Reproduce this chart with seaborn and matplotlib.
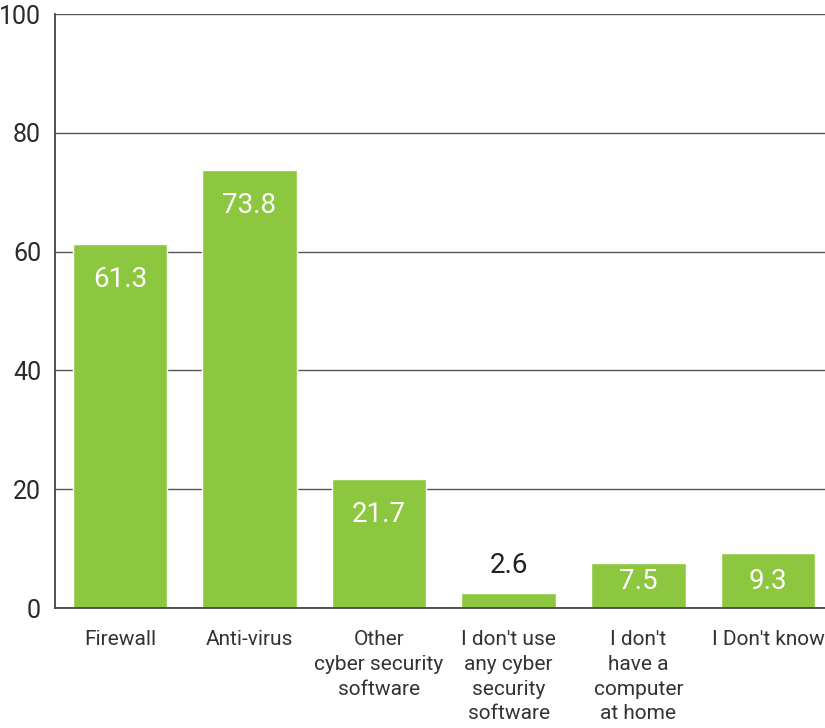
import matplotlib
matplotlib.use("Agg")
import matplotlib.pyplot as plt
import seaborn as sns
import pandas as pd

categories = ["Firewall", "Anti-virus", "Other\ncyber security\nsoftware",
              "I don't use\nany cyber\nsecurity\nsoftware",
              "I don't\nhave a\ncomputer\nat home", "I Don't know"]
values = [61.3, 73.8, 21.7, 2.6, 7.5, 9.3]
yticks = [0, 20, 40, 60, 80, 100]

sns.set_theme(style="white")
plt.rcParams['font.family'] = ['Roboto', 'DejaVu Sans']

df = pd.DataFrame({"cat": categories, "val": values})
fig = plt.figure(figsize=(8.25, 7.28), dpi=100)
ax = fig.add_axes([55/825, 1-608/728, 1-55/825, (608-14)/728])
sns.barplot(data=df, x="cat", y="val", color="#8dc63f", saturation=1, width=0.73, ax=ax)
ax.set_xlim(-0.5, 5.44)
ax.set_ylim(0, 100)
ax.set_yticks(yticks)
ax.yaxis.grid(True, color="#555555", linewidth=1)
ax.set_axisbelow(True)
for s in ["top", "right"]:
    ax.spines[s].set_visible(False)
for s in ["left", "bottom"]:
    ax.spines[s].set_color("#444444")
    ax.spines[s].set_linewidth(1.3)
ax.set_xlabel("")
ax.set_ylabel("")
ax.tick_params(axis="y", labelsize=18, colors="#2a2a2a", length=0, pad=10)
ax.tick_params(axis="x", labelsize=15, colors="#333333", length=0, pad=16)
for lab in ax.get_xticklabels():
    lab.set_verticalalignment("top")
    lab.set_linespacing(1.38)
for i, v in enumerate(values):
    if v > 5:
        ax.text(i, max(v - 6.0, 4.4), f"{v}", ha="center", va="center", color="white", fontsize=20)
    else:
        ax.text(i, v + 2.3, f"{v}", ha="center", va="bottom", color="#222222", fontsize=20)
fig.savefig("out.png", dpi=100)
